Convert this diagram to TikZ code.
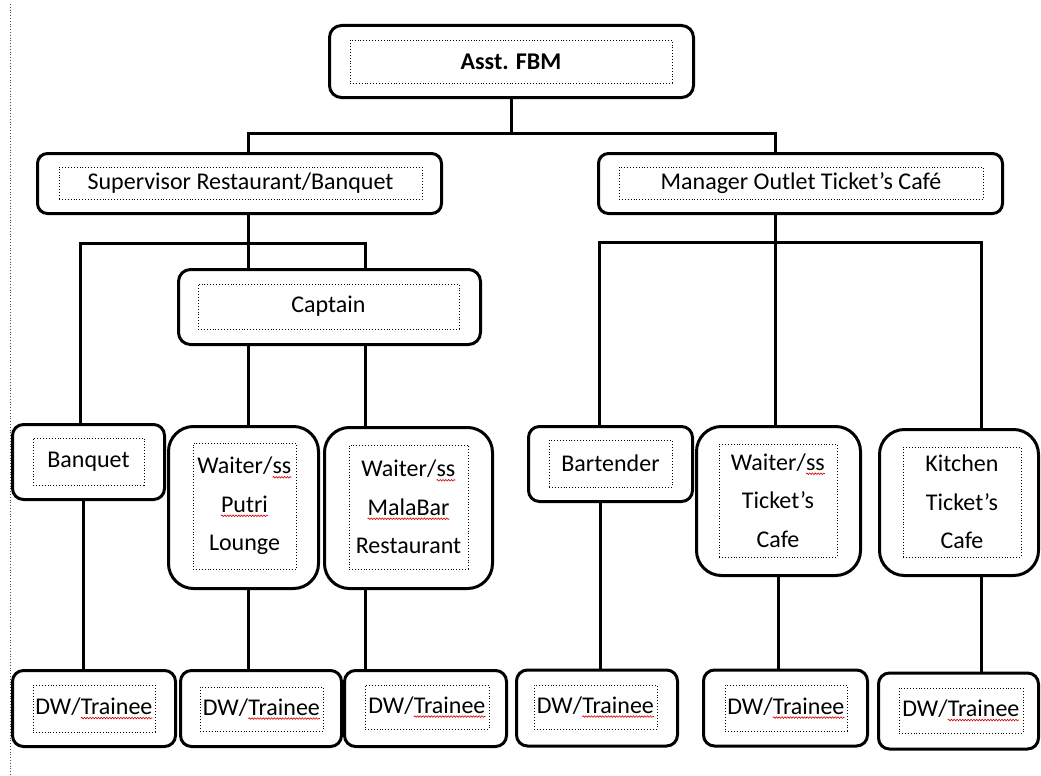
\documentclass[tikz,border=0pt]{standalone}
\usepackage{fontspec}
\setmainfont{Carlito}
\usetikzlibrary{decorations.pathmorphing}

% red spell-check wave under a word
\newcommand\spell[1]{\tikz[baseline=(w.base), x=1pt, y=1pt]{%
    \node[inner sep=0pt, outer sep=0pt, draw=none, solid, minimum size=0pt] (w) {#1};
    \draw[solid, red!85!black, line width=0.6pt, decorate,
      decoration={snake, amplitude=0.8pt, segment length=2.8pt}]
      ([yshift=-3.5pt]w.base west) -- ([yshift=-3.5pt]w.base east);}}

\begin{document}
\begin{tikzpicture}[x=1pt, y=-1pt,
    postbox/.style={draw, line width=3pt, rounded corners=#1, fill=white},
    postbox/.default=11pt,
    namebox/.style={draw, dotted, line width=0.9pt, inner sep=0pt, align=center,
      font=\fontsize{24}{38.5}\selectfont},
    link/.style={draw, line width=3pt}
]
    \useasboundingbox (0,0) rectangle (1041,776);

    % page margin
    \draw[dotted, line width=0.8pt, gray!60!black] (10,4) -- (10,776);

    % Top level
    \node[postbox=12pt, minimum width=364pt, minimum height=72pt] (fbm) at (511.5,61.5) {};
    \node[namebox, minimum width=322pt, minimum height=43pt] (fbmT) at (511,61.5) {\textbf{Asst. FBM}};

    % Second level
    \node[postbox=10pt, minimum width=404pt, minimum height=60pt] (sup) at (239.5,183.5) {};
    \node[namebox, minimum width=363pt, minimum height=32pt] (supT) at (240.5,183) {Supervisor Restaurant/Banquet};
    \node[postbox=10pt, minimum width=404pt, minimum height=60pt] (man) at (800.5,183.5) {};
    \node[namebox, minimum width=364pt, minimum height=32pt] (manT) at (801,183) {Manager Outlet Ticket’s Café};

    % Captain
    \node[postbox=12pt, minimum width=302pt, minimum height=75pt] (cap) at (329.5,307) {};
    \node[namebox, minimum width=261pt, minimum height=45pt] (capT) at (328.5,306.5) {Captain};

    % Third level
    \node[postbox, minimum width=152pt, minimum height=75pt] (banq) at (88.5,462) {};
    \node[namebox, minimum width=111pt, minimum height=47pt] (banqT) at (88.5,461.5) {Banquet};
    \node[postbox=25pt, minimum width=150pt, minimum height=162pt] (wpl) at (243.5,507.5) {};
    \node[namebox, minimum width=103pt, minimum height=126pt] (wplT) at (244.5,506) {Waiter/\spell{ss}\\\spell{Putri}\\Lounge};
    \node[postbox=25pt, minimum width=168pt, minimum height=161pt] (wmr) at (408.5,508) {};
    \node[namebox, minimum width=119pt, minimum height=124pt] (wmrT) at (408.5,507) {Waiter/\spell{ss}\\\spell{MalaBar}\\Restaurant};
    \node[postbox, minimum width=164pt, minimum height=75pt] (bart) at (610.5,464) {};
    \node[namebox, minimum width=123pt, minimum height=47pt] (bartT) at (610.5,463.5) {Bartender};
    \node[postbox=25pt, minimum width=164pt, minimum height=149pt] (wtc) at (778.5,501) {};
    \node[namebox, minimum width=118pt, minimum height=113pt] (wtcT) at (778,500.5) {Waiter/\spell{ss}\\Ticket’s\\Cafe};
    \node[postbox=25pt, minimum width=159pt, minimum height=146pt] (kit) at (959,502.5) {};
    \node[namebox, minimum width=118pt, minimum height=110pt] (kitT) at (962,502) {Kitchen\\Ticket’s\\Cafe};

    % Bottom level
    \foreach \n/\x/\y/\w/\tx/\ty/\tw/\th in {1/94/708.5/163/94/708.5/122/47, 2/261/708.5/161/261.5/709/123/44,
        3/425.5/708.5/162/427/707/124/44, 4/597/708/161/595.5/707/123/44,
        5/785.5/708/164/786/708/122/46, 6/958.5/711/160/961/710.5/124/45} {
        \node[postbox, minimum width=\w pt, minimum height=76pt] (dw\n) at (\x,\y) {};
        \node[namebox, minimum width=\tw pt, minimum height=\th pt] (dw\n T) at (\tx,\ty) {DW/\spell{Trainee}};
    }

    % Connectors
    \coordinate (a1) at (248,133);
    \coordinate (a2) at (775,133);
    \draw[link] (fbm.south) -- (fbm.south |- a1);
    \draw[link] (sup.north -| a1) -- (a1) -- (a2) -- (man.north -| a2);

    \coordinate (b1) at (80,243);
    \coordinate (b2) at (248,243);
    \coordinate (b3) at (365,243);
    \draw[link] (sup.south -| b2) -- (b2);
    \draw[link] (banq.north -| b1) -- (b1) -- (b3) -- (cap.north -| b3);
    \draw[link] (b2) -- (cap.north -| b2);
    \draw[link] (cap.south -| b2) -- (wpl.north -| b2);
    \draw[link] (cap.south -| b3) -- (wmr.north -| b3);

    \coordinate (c1) at (599,242);
    \coordinate (c2) at (775,242);
    \coordinate (c3) at (981,242);
    \draw[link] (man.south -| c2) -- (c2);
    \draw[link] (bart.north -| c1) -- (c1) -- (c3) -- (kit.north -| c3);
    \draw[link] (c2) -- (wtc.north -| c2);

    \coordinate (d1) at (83,0);
    \coordinate (d2) at (248,0);
    \coordinate (d3) at (365,0);
    \coordinate (d4) at (600,0);
    \coordinate (d5) at (778,0);
    \coordinate (d6) at (981,0);
    \draw[link] (banq.south -| d1) -- (dw1.north -| d1);
    \draw[link] (wpl.south -| d2) -- (dw2.north -| d2);
    \draw[link] (wmr.south -| d3) -- (dw3.north -| d3);
    \draw[link] (bart.south -| d4) -- (dw4.north -| d4);
    \draw[link] (wtc.south -| d5) -- (dw5.north -| d5);
    \draw[link] (kit.south -| d6) -- (dw6.north -| d6);
\end{tikzpicture}
\end{document}
